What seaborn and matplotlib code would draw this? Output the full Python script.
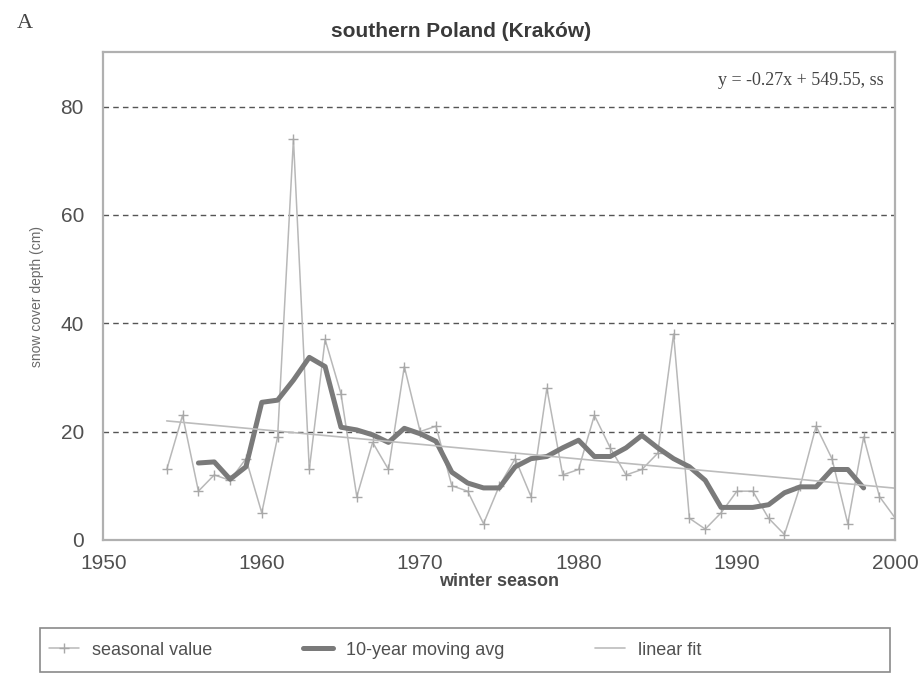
import matplotlib
matplotlib.use("Agg")
import matplotlib.pyplot as plt
from matplotlib.patches import Rectangle
import pandas as pd
import seaborn as sns

# seasonal snow cover depth (cm)
years = list(range(1954, 2001))
seasonal = [13, 23, 9, 12, 11, 15, 5, 19, 74, 13,
            37, 27, 8, 18, 13, 32, 20, 21, 10, 9,
            3, 10, 15, 8, 28, 12, 13, 23, 17, 12,
            13, 16, 38, 4, 2, 5, 9, 9, 4, 1,
            10, 21, 15, 3, 19, 8, 4]

# 10-year moving average
ma_years = list(range(1956, 1999))
moving_avg = [14.2, 14.4, 11.2, 13.5, 25.4, 25.8, 29.5, 33.7, 32.0, 20.8,
              20.3, 19.4, 18.0, 20.6, 19.6, 18.2, 12.5, 10.5, 9.6, 9.6,
              13.5, 15.0, 15.4, 17.0, 18.4, 15.4, 15.4, 17.0, 19.3, 17.0,
              15.0, 13.5, 11.0, 6.0, 6.0, 6.0, 6.5, 8.7, 9.8, 9.8,
              13.0, 13.0, 9.6]

# linear fit given in the figure
fit_slope = -0.27
fit_intercept = 549.55
fit_years = [1954, 2000]

title = "southern Poland (Kraków)"
equation = "y = -0.27x + 549.55, ss"
ytick_vals = [0, 20, 40, 60, 80]
xtick_vals = [1950, 1960, 1970, 1980, 1990, 2000]

sns.set_theme(style="white")
plt.rcParams["font.family"] = ["Liberation Sans", "DejaVu Sans"]

fig = plt.figure(figsize=(9.23, 6.8), dpi=100)
ax = fig.add_axes([0.112, 0.206, 0.858, 0.717])

df_season = pd.DataFrame({"year": years, "depth": seasonal})
df_ma = pd.DataFrame({"year": ma_years, "depth": moving_avg})
df_fit = pd.DataFrame({"year": fit_years,
                       "depth": [fit_slope * y + fit_intercept for y in fit_years]})

for yv in ytick_vals[1:]:
    ax.axhline(yv, color="#555555", linestyle=(0, (4, 3)), linewidth=1.0, zorder=0)

sns.lineplot(data=df_season, x="year", y="depth", ax=ax, color="#b8b8b8",
             linewidth=1.1, marker="+", markersize=7, markeredgewidth=1.0,
             markeredgecolor="#a8a8a8", label="seasonal value")
sns.lineplot(data=df_ma, x="year", y="depth", ax=ax, color="#7a7a7a",
             linewidth=3.6, label="10-year moving avg")
sns.lineplot(data=df_fit, x="year", y="depth", ax=ax, color="#bcbcbc",
             linewidth=1.2, label="linear fit")

ax.set_xlim(1950, 2000)
ax.set_ylim(0, 90)
ax.set_xticks(xtick_vals)
ax.set_xticks(list(range(1955, 2000, 5)), minor=True)
ax.set_yticks(ytick_vals)
ax.tick_params(axis="x", which="both", direction="inout", length=8, width=1,
               color="#aaaaaa", labelsize=15, labelcolor="#505050", pad=6)
ax.tick_params(axis="y", length=0, labelsize=15, labelcolor="#505050", pad=14)

for side in ["top", "right", "left", "bottom"]:
    ax.spines[side].set_visible(True)
    ax.spines[side].set_color("#b0b0b0")
    ax.spines[side].set_linewidth(1.6)

ax.set_xlabel("winter season", fontsize=13, fontweight="bold", color="#4a4a4a",
              labelpad=0)
ax.set_ylabel("snow cover depth (cm)", fontsize=10, color="#6a6a6a", labelpad=12)

ax.text(0.985, 0.96, equation, transform=ax.transAxes, ha="right", va="top",
        fontsize=13, color="#444444", family="Liberation Serif")

fig.text(0.5, 0.953, title, ha="center", va="center", fontsize=15,
         fontweight="bold", color="#3a3a3a")
fig.text(0.018, 0.965, "A", ha="left", va="center", fontsize=16,
         color="#444444", family="Liberation Serif")

# legend box below the plot
fig.patches.append(Rectangle((0.043, 0.012), 0.921, 0.064, transform=fig.transFigure,
                             fill=False, edgecolor="#8a8a8a", linewidth=1.2))
handles, labels = ax.get_legend_handles_labels()
ax.get_legend().remove()
leg = fig.legend(handles, labels, loc="center left", ncol=3,
                 bbox_to_anchor=(0.045, 0.044), frameon=False, fontsize=13,
                 handlelength=1.7, handletextpad=0.7, columnspacing=5.0,
                 borderaxespad=0)
for t in leg.get_texts():
    t.set_color("#505050")

fig.savefig("out.png", dpi=100)
